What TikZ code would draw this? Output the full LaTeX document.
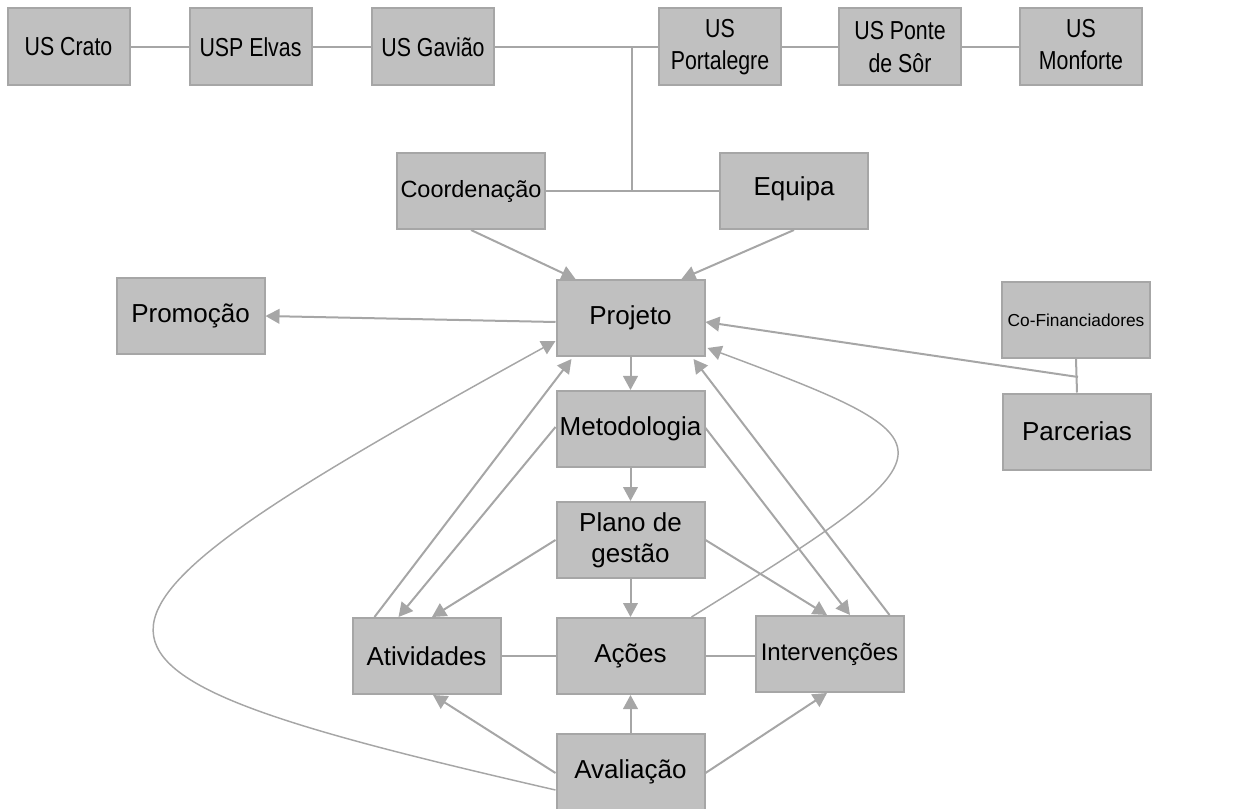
\documentclass[tikz,border=0pt]{standalone}
\usepackage{fontspec}
\setmainfont{Liberation Sans}
\newfontfamily\narrowfont[FakeStretch=0.82]{Liberation Sans}
\usetikzlibrary{arrows.meta,calc}
\definecolor{boxfill}{HTML}{C0C0C0}
\definecolor{boxline}{HTML}{A6A6A6}
\definecolor{conn}{HTML}{A6A6A6}
\begin{document}
\begin{tikzpicture}[x=0.75pt,y=-0.75pt,
  box/.style={draw=boxline, fill=boxfill, line width=1.5pt, inner sep=0pt, align=center},
  mainbox/.style={box, minimum width=111pt, minimum height=57pt, font=\fontsize{19.5}{23}\selectfont},
  topbox/.style={box, minimum width=91.5pt, minimum height=57.75pt, font=\narrowfont\fontsize{19.5}{25}\selectfont},
  link/.style={draw=conn, line width=1.5pt},
  arr/.style={link, -{Triangle[length=10.5pt,width=11pt]}},
  thinarr/.style={draw=conn, line width=1.1pt, -{Triangle[length=10.5pt,width=11pt]}}
]
\useasboundingbox (0,0) rectangle (1257,809);

% top row
\node[topbox] (crato) at (68.5,47) {US Crato};
\node[topbox] (elvas) at (250.5,47) {USP Elvas};
\node[topbox] (gaviao) at (433,47) {US Gavião};
\node[topbox] (portalegre) at (720,47) {\raisebox{3pt}{\begin{tabular}{@{}c@{}}US\\[-0.5pt]Portalegre\end{tabular}}};
\node[topbox] (ponte) at (900,47) {US Ponte\\de Sôr};
\node[topbox] (monforte) at (1081,47) {\raisebox{3pt}{\begin{tabular}{@{}c@{}}US\\[-0.5pt]Monforte\end{tabular}}};

% middle
\node[mainbox, font=\fontsize{17.6}{21}\selectfont] (coord) at (471,191) {Coordenação};
\node[mainbox] (equipa) at (794,191) {\raisebox{6.75pt}{Equipa}};
\node[mainbox] (projeto) at (630.5,318) {Projeto};
\node[mainbox] (promocao) at (190.5,316) {Promoção};
\node[mainbox, font=\fontsize{13}{16}\selectfont] (cofin) at (1076,320) {Co-Financiadores};
\node[mainbox] (parcerias) at (1077,431.5) {Parcerias};
\node[mainbox] (metodologia) at (630.5,429) {Metodologia};
\node[mainbox] (plano) at (630.5,540) {Plano de\\gestão};
\node[mainbox] (acoes) at (630.5,656) {Ações};
\node[mainbox] (atividades) at (426.5,656) {Atividades};
\node[mainbox, font=\fontsize{18}{21}\selectfont] (interv) at (829.5,654) {Intervenções};
\node[mainbox] (avaliacao) at (630.5,771.5) {Avaliação};

% top row links
\draw[link] (crato.east) -- (elvas.west);
\draw[link] (elvas.east) -- (gaviao.west);
\draw[link] (gaviao.east) -- (portalegre.west);
\draw[link] (portalegre.east) -- (ponte.west);
\draw[link] (ponte.east) -- (monforte.west);

\coordinate (jtop) at (632,47);
\coordinate (jbot) at (632,191);
\draw[link] (jtop) -- (jbot);
\draw[link] (coord.east) -- (equipa.west);

\draw[arr] (coord.south) -- ($(projeto.north west)+(20,0)$);
\draw[arr] (equipa.south) -- ($(projeto.north east)+(-24,0)$);
\draw[arr] ($(projeto.west)+(0,4)$) -- (promocao.east);

\draw[link] (cofin.south) -- (parcerias.north);
\coordinate (cp) at (1078,377);
\draw[arr] (cp) -- ($(projeto.east)+(0,4)$);

% vertical chain
\draw[arr] (projeto.south) -- (metodologia.north);
\draw[arr] (metodologia.south) -- (plano.north);
\draw[arr] (plano.south) -- (acoes.north);
\draw[arr] (avaliacao.north) -- (acoes.south);

\draw[link] (atividades.east) -- (acoes.west);
\draw[link] (acoes.east) -- (interv.west |- acoes.east);

% left side
\draw[arr] ($(atividades.north west)+(23,0)$) -- ($(projeto.south west)+(16,2)$);
\draw[arr] ($(metodologia.west)+(0,-2)$) -- ($(atividades.north west)+(47,0)$);
\draw[arr] (plano.west) -- ($(atividades.north)+(5.5,0)$);
\draw[arr] ($(avaliacao.west)+(0,1.5)$) -- ($(atividades.south)+(6.5,0)$);
\draw[thinarr] ($(avaliacao.west)+(0,18.5)$) .. controls (21,667) and (21,636) .. ($(projeto.south west)+(0,-16)$);

% right side
\draw[arr] ($(avaliacao.east)+(0,1.5)$) -- ($(interv.south)+(-2.5,0)$);
\draw[arr] (plano.east) -- ($(interv.north)+(-2.5,0)$);
\draw[arr] ($(metodologia.east)+(0,-1)$) -- ($(interv.north)+(20.5,0)$);
\draw[arr] ($(interv.north east)+(-15,0)$) -- ($(projeto.south east)+(-12,2)$);
\draw[thinarr] ($(acoes.north east)+(-14,0)$) .. controls (962,449) and (962,443) .. ($(projeto.south east)+(2,-9)$);
\end{tikzpicture}
\end{document}
